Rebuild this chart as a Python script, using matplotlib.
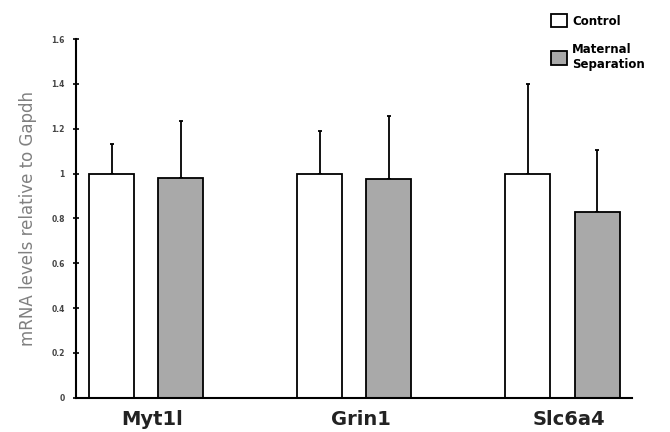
import numpy as np
import matplotlib
matplotlib.use('Agg')
import matplotlib.pyplot as plt
from matplotlib.patches import Patch


# mRNA data, relative to Gapdh
genes = ['Myt1l', 'Grin1', 'Slc6a4']
control = [1.0, 1.0, 1.0]
control_err = [0.13, 0.19, 0.40]
separation = [0.98, 0.975, 0.83]
separation_err = [0.255, 0.28, 0.275]

y_ticks = [0, 0.2, 0.4, 0.6, 0.8, 1, 1.2, 1.4, 1.6]
y_tick_labels = ['0', '0.2', '0.4', '0.6', '0.8', '1', '1.2', '1.4', '1.6']


fig = plt.figure(figsize=(6.7, 4.32), dpi=100)
ax = fig.add_axes([0.1134, 0.0794, 0.8296, 0.8303])

x = np.arange(len(genes))
w = 0.216
off = 0.166

ax.bar(x - off, control, w, color='white', edgecolor='black', linewidth=1.3, zorder=2)
ax.bar(x + off, separation, w, color='#a9a9a9', edgecolor='black', linewidth=1.3, zorder=2)

# upper error bars only
ax.errorbar(x - off, control, yerr=[np.zeros(3), control_err], fmt='none',
            ecolor='black', elinewidth=1.3, capsize=1.5, capthick=1.3, zorder=1)
ax.errorbar(x + off, separation, yerr=[np.zeros(3), separation_err], fmt='none',
            ecolor='black', elinewidth=1.3, capsize=1.5, capthick=1.3, zorder=1)

ax.set_xlim(-0.338, 2.333)
ax.set_ylim(0, 1.6)

for s in ['top', 'right']:
    ax.spines[s].set_visible(False)
ax.spines['left'].set_linewidth(1.5)
ax.spines['bottom'].set_linewidth(1.5)

ax.set_yticks(y_ticks)
ax.set_yticklabels(y_tick_labels, fontsize=5.5, fontweight='bold', color='#444444')
ax.tick_params(axis='y', direction='inout', length=4, width=1.2, pad=6)

ax.set_xticks(x + 0.03)
ax.set_xticklabels(genes, fontsize=14, fontweight='bold', color='#222222')
ax.tick_params(axis='x', length=0, pad=9)

ax.set_ylabel('mRNA levels relative to Gapdh', fontsize=12, color='#808080', labelpad=10)

handles = [Patch(facecolor='white', edgecolor='black', linewidth=1.3),
           Patch(facecolor='#a9a9a9', edgecolor='black', linewidth=1.3)]
fig.legend(handles, ['Control', 'Maternal\nSeparation'], loc='upper left',
           bbox_to_anchor=(0.822, 0.968), frameon=False,
           prop={'size': 8.5, 'weight': 'bold'}, handlelength=1.4, handleheight=1.4,
           handletextpad=0.4, labelspacing=1.3, borderaxespad=0, borderpad=0)

fig.savefig('out.png', dpi=100)
